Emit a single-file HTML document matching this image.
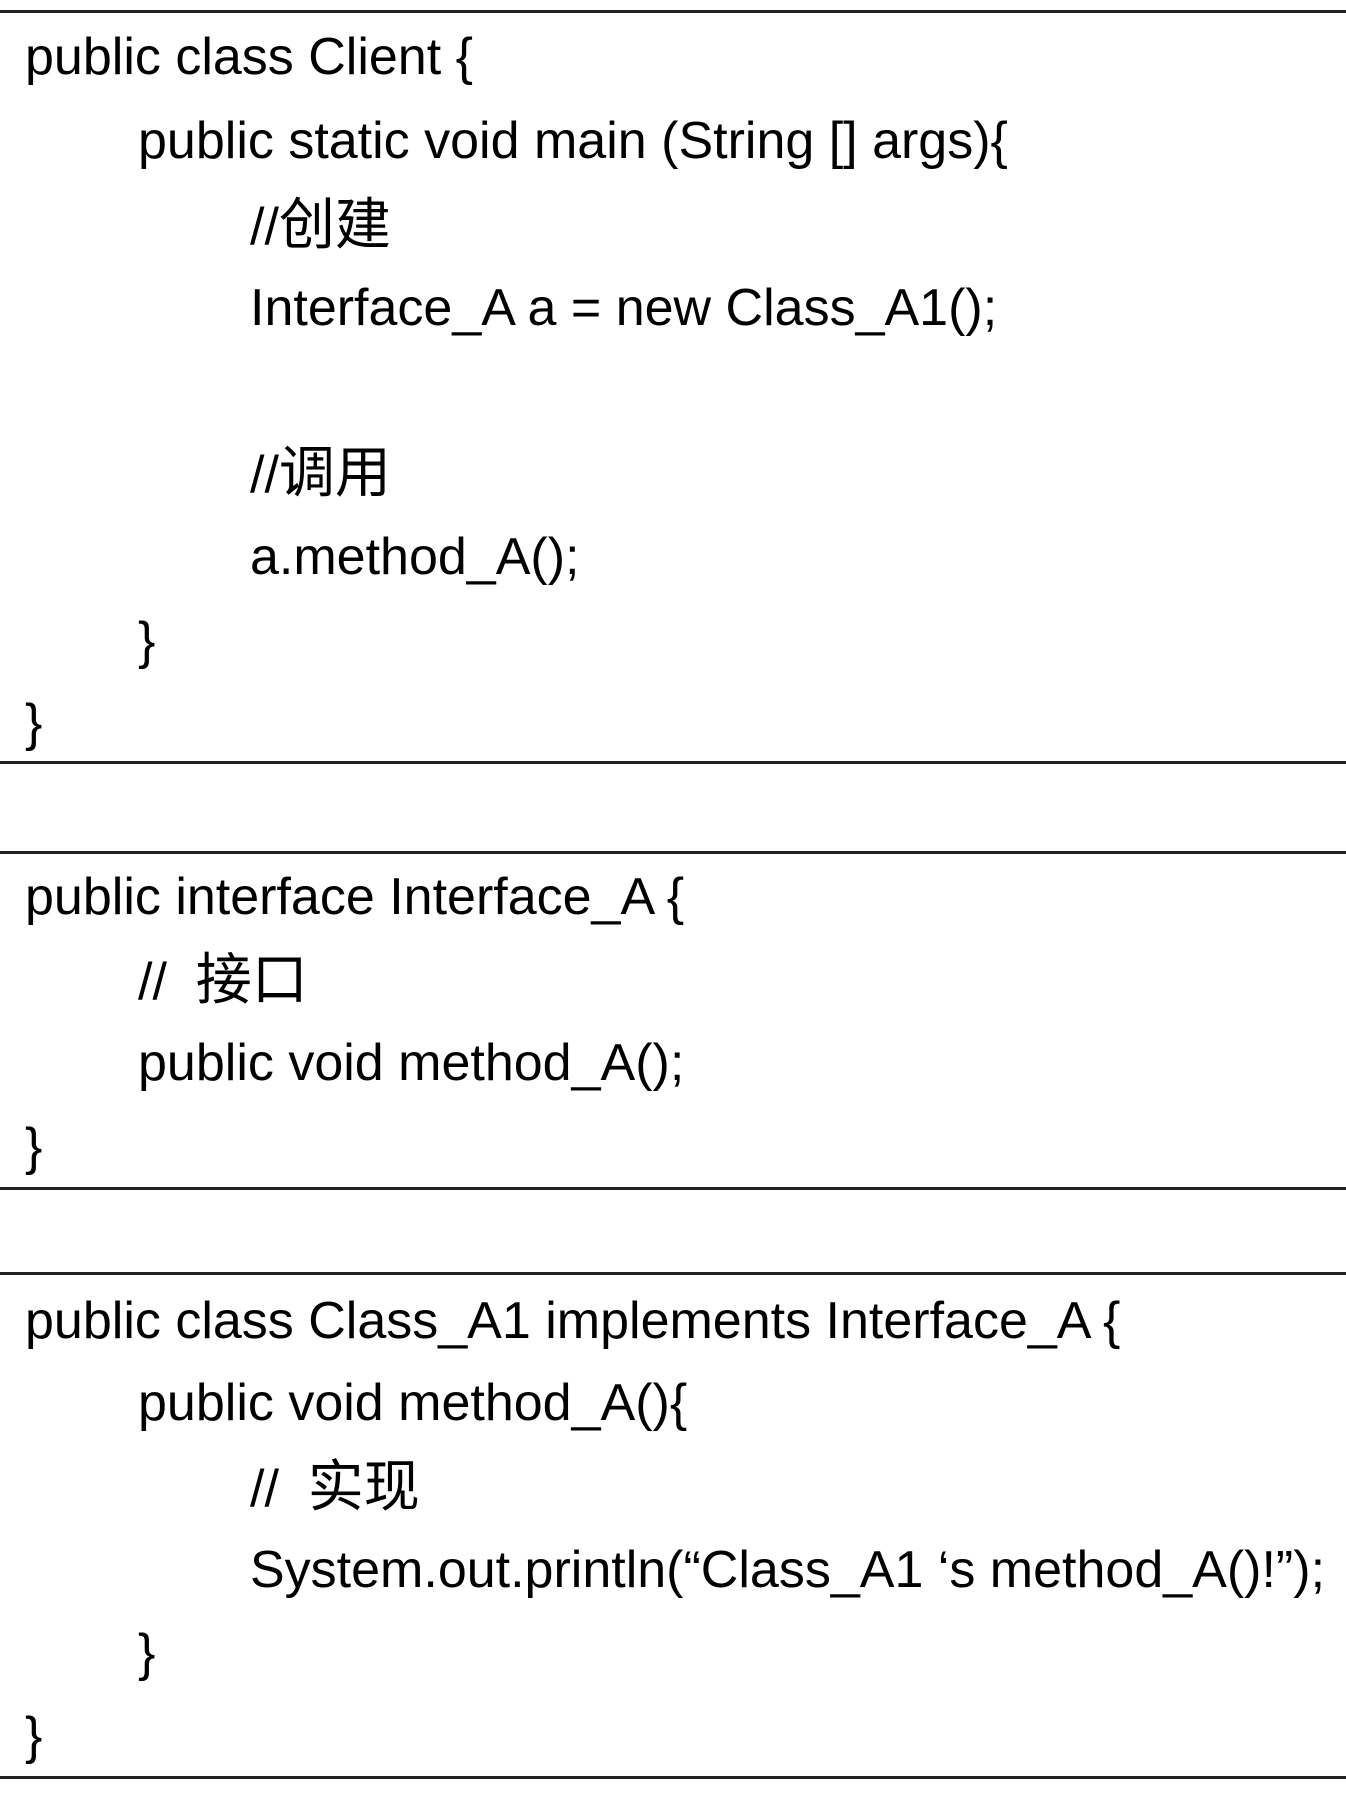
<!DOCTYPE html>
<html><head><meta charset="utf-8"><style>
html,body{margin:0;padding:0;background:#fff;}
body{width:1346px;height:1797px;position:relative;overflow:hidden;font-family:"Liberation Sans","Noto Sans CJK SC",sans-serif;font-size:52px;color:#000;}
.h{position:absolute;left:0;width:1346px;height:3px;background:#222;}
.t{position:absolute;white-space:pre;line-height:1;transform:translateY(-50%);}
.c{font-size:56px;}
</style></head><body>
<div class="h" style="top:10px"></div>
<div class="h" style="top:761px"></div>
<div class="h" style="top:851px"></div>
<div class="h" style="top:1187px"></div>
<div class="h" style="top:1272px"></div>
<div class="h" style="top:1776px"></div>

<div class="t" style="left:25px;top:57px">public class Client {</div>
<div class="t" style="left:138px;top:141px">public static void main (String [] args){</div>
<div class="t" style="left:250px;top:225px">//<span class="c">创建</span></div>
<div class="t" style="left:250px;top:308px">Interface_A a = new Class_A1();</div>
<div class="t" style="left:250px;top:473px">//<span class="c">调用</span></div>
<div class="t" style="left:250px;top:557px">a.method_A();</div>
<div class="t" style="left:138px;top:641px">}</div>
<div class="t" style="left:25px;top:723px">}</div>

<div class="t" style="left:25px;top:897px">public interface Interface_A {</div>
<div class="t" style="left:138px;top:980px">//  <span class="c">接口</span></div>
<div class="t" style="left:138px;top:1063px">public void method_A();</div>
<div class="t" style="left:25px;top:1147px">}</div>

<div class="t" style="left:25px;top:1321px">public class Class_A1 implements Interface_A {</div>
<div class="t" style="left:138px;top:1403px">public void method_A(){</div>
<div class="t" style="left:250px;top:1487px">//  <span class="c">实现</span></div>
<div class="t" style="left:250px;top:1570px">System.out.println(“Class_A1 ‘s method_A()!”);</div>
<div class="t" style="left:138px;top:1653px">}</div>
<div class="t" style="left:25px;top:1736px">}</div>
</body></html>
